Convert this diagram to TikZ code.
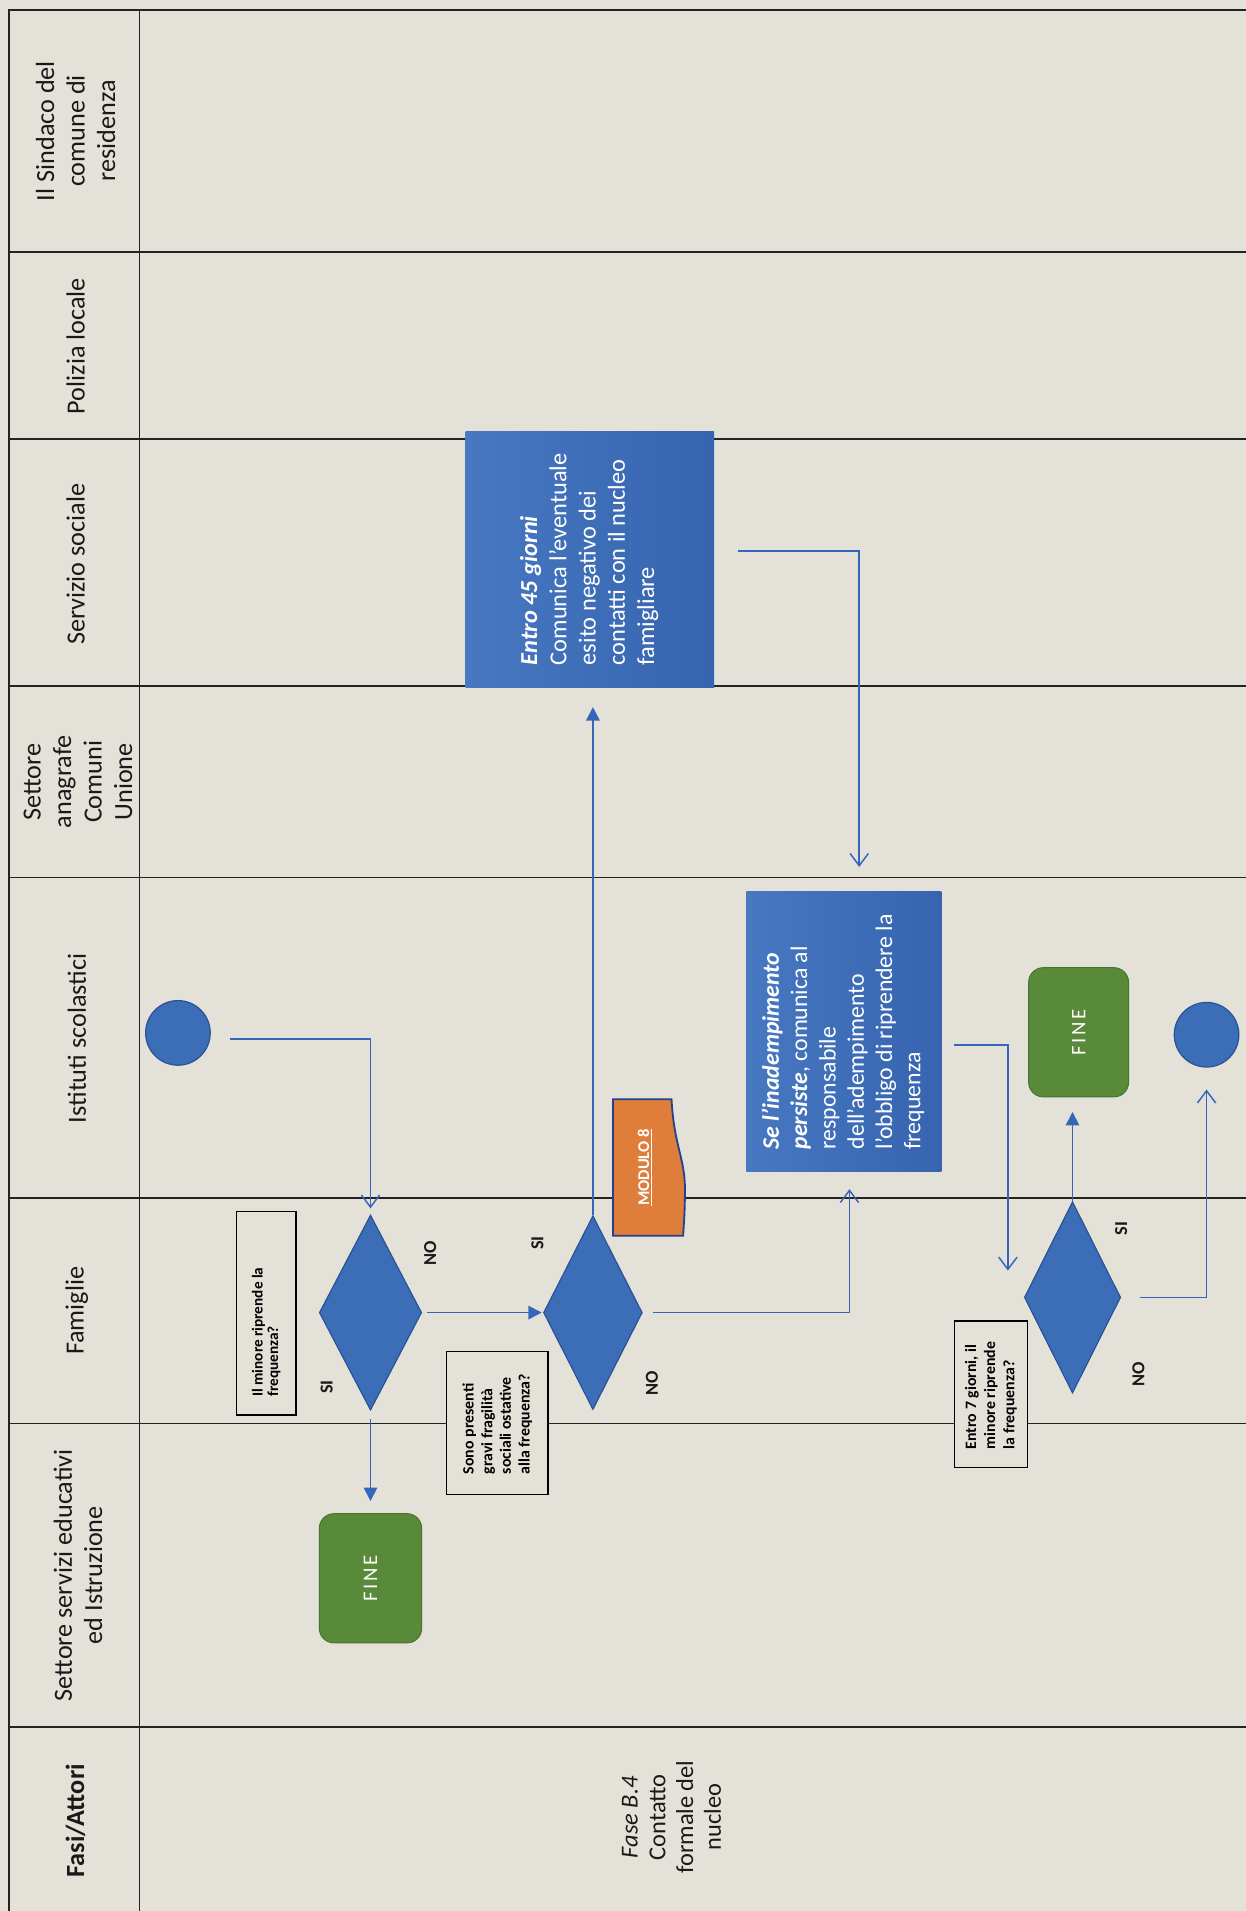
\documentclass[tikz,border=0pt]{standalone}
\usepackage{fontspec}
\setmainfont{Carlito}
\usetikzlibrary{arrows.meta,shapes.geometric,calc}

\definecolor{paper}{RGB}{227,225,216}
\definecolor{lineblue}{RGB}{52,102,186}
\definecolor{shapeblue}{RGB}{60,110,184}
\definecolor{shapeedge}{RGB}{42,82,150}
\definecolor{boxlight}{RGB}{72,120,194}
\definecolor{boxdark}{RGB}{54,100,176}
\definecolor{finegreen}{RGB}{88,138,58}
\definecolor{fineedge}{RGB}{72,115,46}
\definecolor{modorange}{RGB}{222,126,58}
\definecolor{modedge}{RGB}{36,66,140}
\definecolor{gridline}{RGB}{35,35,35}

\begin{document}
\begin{tikzpicture}[x=1pt,y=-1pt,
  grid/.style={draw=gridline, line width=1.3pt},
  hdr/.style={rotate=90, align=center, font=\fontsize{21.5}{25}\selectfont, text=black!90, inner sep=0pt},
  flow/.style={draw=lineblue, line width=1.4pt},
  filltip/.style={-{Triangle[length=11pt,width=11pt]}},
  opentip/.style={-{Straight Barb[length=10pt,width=15pt,line width=1.2pt]}},
  decision/.style={shape=diamond, draw=shapeedge, fill=shapeblue, line width=1pt, inner sep=0pt, aspect=0.5},
  terminal/.style={circle, draw=shapeedge, fill=shapeblue, line width=1pt, minimum size=53pt, inner sep=0pt},
  finebox/.style={rounded corners=12pt, draw=fineedge, fill=finegreen, line width=0.8pt, text=white, font=\fontsize{17}{20}\selectfont, inner sep=0pt, minimum width=84pt, minimum height=106pt},
  actbox/.style={left color=boxlight, right color=boxdark, draw=none, text=white, inner sep=0pt},
  qbox/.style={draw=black, fill=paper, line width=1.1pt, inner sep=0pt},
  answer/.style={rotate=90, font=\bfseries\fontsize{15}{17}\selectfont, inner sep=0pt, text=black!90},
]
\fill[paper] (0,0) rectangle (1022,1568);
\useasboundingbox (0,0) rectangle (1022,1568);

% grid
\draw[grid] (7.5,1568) -- (7.5,8) -- (1022,8);
\draw[grid] (114.5,8) -- (114.5,1568);
\foreach \yy in {207,360,563,720,983,1168,1417} \draw[grid] (7.5,\yy) -- (1022,\yy);

% headers
\node[hdr] (h1) at (62,107.5) {Il Sindaco del\\comune di\\residenza};
\node[hdr] (h2) at (62,284) {Polizia locale};
\node[hdr] (h3) at (62,463) {Servizio sociale};
\node[hdr] (h4) at (64,641.5) {Settore\\anagrafe\\Comuni\\Unione};
\node[hdr] (h5) at (63,852) {Istituti scolastici};
\node[hdr] (h6) at (63,1075.5) {Famiglie};
\node[hdr] (h7) at (64,1292.5) {Settore servizi educativi\\ed Istruzione};
\node[hdr, font=\bfseries\fontsize{21.5}{25}\selectfont] (h8) at (62,1494) {Fasi/Attori};
\node[rotate=90, align=center, font=\fontsize{20}{22.8}\selectfont, text=black!90, inner sep=0pt] (fase) at (551,1491) {\textit{Fase B.4}\\Contatto\\formale del\\nucleo};

% action boxes
\node[actbox, minimum width=204pt, minimum height=210pt, font=\fontsize{20}{24}\selectfont] (b1) at (484,459) {\rotatebox{90}{\begin{tabular}{@{}l@{}}\textbf{\textit{Entro 45 giorni}}\\Comunica l'eventuale\\esito negativo dei\\contatti con il nucleo\\famigliare\end{tabular}}};
\node[actbox, minimum width=160pt, minimum height=230pt, font=\fontsize{19.5}{23.2}\selectfont] (b2) at (692.5,846.5) {\rotatebox{90}{\begin{tabular}{@{}l@{}}\textbf{\textit{Se l'inadempimento}}\\\textbf{\textit{persiste}}, comunica al\\responsabile\\dell'adempimento\\l'obbligo di riprendere la\\frequenza\end{tabular}}};

% decisions
\node[decision, minimum width=84pt, minimum height=160pt] (d1) at (304,1077) {};
\node[decision, minimum width=81pt, minimum height=159pt] (d2) at (486.5,1077) {};
\node[decision, minimum width=79pt, minimum height=157pt] (d3) at (880,1064.5) {};

% terminals
\node[terminal] (start) at (146,847.5) {};
\node[terminal] (end) at (990,849) {};

% FINE boxes
\node[finebox] (fine1) at (304,1295) {\rotatebox{90}{F\kern2pt I\kern2pt N\kern2pt E}};
\node[finebox, minimum width=82pt] (fine2) at (885,847) {\rotatebox{90}{F\kern2pt I\kern2pt N\kern2pt E}};

% MODULO 8 document
\path[draw=modedge, fill=modorange, line width=1.5pt] (503,902) -- (551,902) .. controls (553,940) and (562,950) .. (562,976) .. controls (562,995) and (561,1005) .. (560.5,1014) -- (503,1014) -- cycle;
\node[rotate=90, font=\bfseries\fontsize{13.5}{15}\selectfont, text=white, inner sep=0pt] (mod) at (529,958) {\underline{MODULO 8}};

% question boxes
\node[qbox, minimum width=49pt, minimum height=167pt, font=\bfseries\fontsize{12.5}{12.8}\selectfont] (q1) at (218.5,1077.5) {\rotatebox{90}{\parbox{137pt}{\raggedright Il minore riprende la\\frequenza?}}};
\node[qbox, minimum width=83.5pt, minimum height=117pt, font=\bfseries\fontsize{13}{15.3}\selectfont] (q2) at (408,1167.5) {\rotatebox{90}{\parbox{84pt}{\raggedright Sono presenti\\gravi fragilità\\sociali ostative\\alla frequenza?}}};
\node[qbox, minimum width=60pt, minimum height=120pt, font=\bfseries\fontsize{13}{15.7}\selectfont] (q3) at (813,1144) {\rotatebox{90}{\parbox{90pt}{\raggedright Entro 7 giorni, il\\minore riprende\\la frequenza?}}};

% answers
\node[answer] (s1) at (268,1138) {SI};
\node[answer] (n1) at (353,1028) {NO};
\node[answer] (s2) at (441,1020) {SI};
\node[answer] (n2) at (535,1135) {NO};
\node[answer] (s3) at (920,1008) {SI};
\node[answer] (n3) at (934,1128) {NO};

% connectors
\draw[flow, opentip, shorten <=16pt, shorten >=5pt] ([yshift=-5pt]start.east) -| (d1.north);
\draw[flow, filltip, shorten <=7pt, shorten >=10pt] (d1.south) -- (fine1.north);
\draw[flow, filltip, shorten <=4pt, shorten >=1pt] (d1.east) -- (d2.west);
\draw[flow, filltip, shorten >=16pt] (d2.north) -- (d2.north |- b1.south);
\draw[flow, opentip, shorten <=19pt, shorten >=20pt] ([yshift=7pt]b1.east) -| ([xshift=12.5pt]b2.north);
\draw[flow, opentip, shorten <=8pt, shorten >=14pt] (d2.east) -| ([xshift=4.5pt]b2.south);
\coordinate (d3in) at ([xshift=-13pt, yshift=22pt]d3.west);
\draw[flow, opentip, shorten <=10pt] ([yshift=-11pt]b2.east) -| (d3in);
\draw[flow, filltip, shorten >=12pt] (d3.north) -- (d3.north |- fine2.south);
\draw[flow, opentip, shorten <=15pt, shorten >=18pt] (d3.east) -| (end.south);
\end{tikzpicture}
\end{document}
